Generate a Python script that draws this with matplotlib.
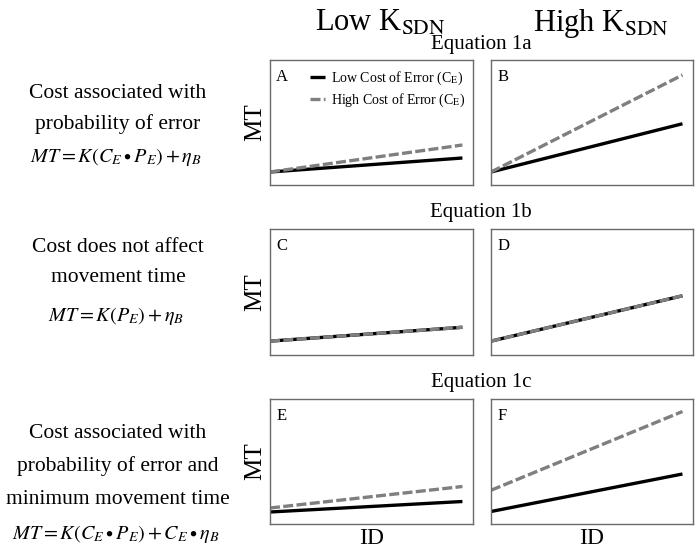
import matplotlib
matplotlib.use("Agg")
import matplotlib.pyplot as plt

plt.rcParams["font.family"] = ["Liberation Serif", "DejaVu Serif"]
plt.rcParams["mathtext.fontset"] = "stix"

# panel letters, row-major (Low K_SDN, High K_SDN)
panel_labels = ["A", "B", "C", "D", "E", "F"]
id_pts = [0.0, 1.0]
# MT at ID start / end, for low and high cost of error
low_cost = [[0.104, 0.216], [0.104, 0.49],
            [0.11, 0.22], [0.11, 0.47],
            [0.096, 0.18], [0.10, 0.40]]
high_cost = [[0.104, 0.32], [0.104, 0.88],
             [0.11, 0.22], [0.11, 0.47],
             [0.128, 0.30], [0.27, 0.90]]

col_titles = [r"Low K$_{\mathrm{SDN}}$", r"High K$_{\mathrm{SDN}}$"]
row_titles = ["Equation 1a", "Equation 1b", "Equation 1c"]
row_texts = [["Cost associated with", "probability of error"],
             ["Cost does not affect", "movement time"],
             ["Cost associated with", "probability of error and", "minimum movement time"]]
row_eqs = [r"$MT=K\left(C_E\bullet P_E\right)+\eta_B$",
           r"$MT=K\left(P_E\right)+\eta_B$",
           r"$MT=K\left(C_E\bullet P_E\right)+C_E\bullet\eta_B$"]
# vertical pixel positions of the left-hand text lines and equations
text_y = [[93, 124], [248, 278], [433, 466, 499]]
eq_y = [157, 316, 534]

fig = plt.figure(figsize=(6.96, 5.5), dpi=100)
W, H = 696.0, 550.0
col_x = [(270, 203), (491, 202)]
row_y = [(60, 185), (229, 355), (399, 524)]
GRAY = "#7f7f7f"

for r, (top, bot) in enumerate(row_y):
    for c, (x0, w) in enumerate(col_x):
        i = r * 2 + c
        ax = fig.add_axes([x0 / W, 1 - bot / H, w / W, (bot - top) / H])
        ax.plot(id_pts, low_cost[i], color="black", lw=2.4, solid_capstyle="butt",
                label="Low Cost of Error (C$_{\\mathrm{E}}$)")
        ax.plot(id_pts, high_cost[i], color=GRAY, lw=2.4, ls=(0, (3, 1.0)),
                label="High Cost of Error (C$_{\\mathrm{E}}$)")
        ax.set_xlim(0, 1.055)
        ax.set_ylim(0, 1)
        ax.set_xticks([]); ax.set_yticks([])
        for s in ax.spines.values():
            s.set_color("#6a6a6a"); s.set_linewidth(1.0)
        ax.text(0.03, 0.93, panel_labels[i], transform=ax.transAxes,
                fontsize=12, va="top", ha="left")
        if c == 0:
            ax.set_ylabel("MT", fontsize=18, labelpad=3)
        if i == 0:
            ax.legend(loc="upper left", bbox_to_anchor=(0.15, 1.0), frameon=False,
                      fontsize=10, handlelength=1.1, handletextpad=0.4,
                      labelspacing=0.35, borderaxespad=0.3)
        if r == 2:
            fig.text((x0 + w / 2) / W, 1 - 538 / H, "ID", ha="center", va="center",
                     fontsize=17)

for x, t in zip([380, 601], col_titles):
    fig.text(x / W, 1 - 23 / H, t, ha="center", va="center", fontsize=22)
for (top, bot), t in zip(row_y, row_titles):
    fig.text(481 / W, 1 - (top - 16) / H, t, ha="center", va="center", fontsize=15)
for lines, ys, eq, ey in zip(row_texts, text_y, row_eqs, eq_y):
    for s, y in zip(lines, ys):
        fig.text(118 / W, 1 - y / H, s, ha="center", va="center", fontsize=15.5)
    fig.text(116 / W, 1 - ey / H, eq, ha="center", va="center", fontsize=14.5)

fig.savefig("out.png", dpi=100)
